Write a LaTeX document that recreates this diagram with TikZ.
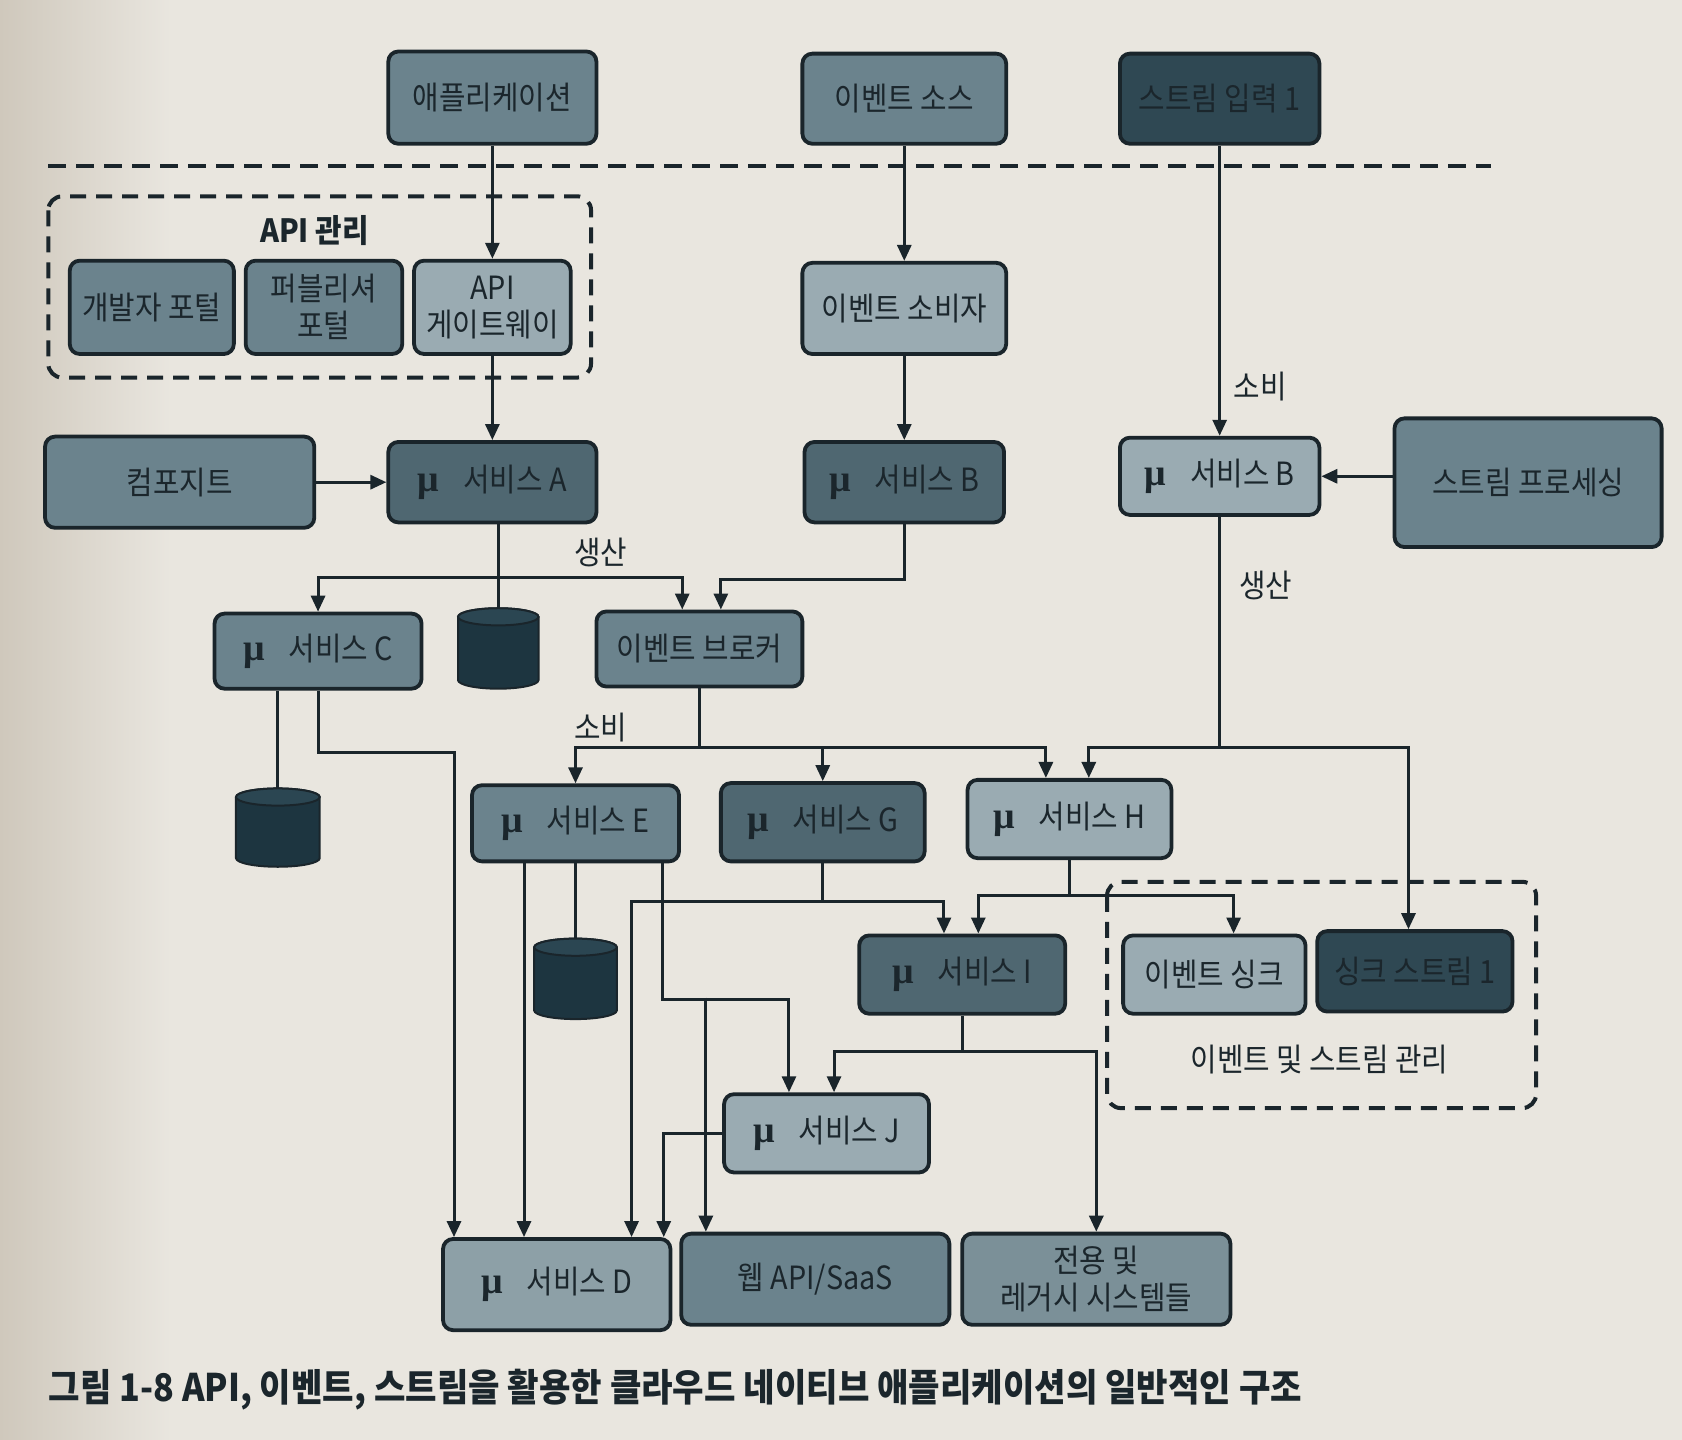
\documentclass[tikz,border=0pt]{standalone}
\usepackage{fontspec}
\usetikzlibrary{arrows.meta,calc}
\newfontfamily\kr[FakeStretch=0.9]{Noto Sans CJK KR}
\newfontfamily\mufont{Liberation Serif}
\definecolor{bg}{HTML}{E9E6DF}
\definecolor{shadowc}{HTML}{CFC8BC}
\definecolor{txt}{HTML}{1B262C}
\definecolor{bordc}{HTML}{1A252B}
\definecolor{cdark}{HTML}{2F4853}
\definecolor{cmdark}{HTML}{4F6771}
\definecolor{cmid}{HTML}{6B838D}
\definecolor{clegacy}{HTML}{7B9098}
\definecolor{clight}{HTML}{9AABB2}
\definecolor{clightD}{HTML}{8DA0A7}
\definecolor{cylbody}{HTML}{1D3540}
\definecolor{cyltop}{HTML}{2B4652}
\def\unitpx{0.53635pt}
\newcommand\mkbox[7]{\node[#1, minimum width={(#5-#3)*\unitpx}, minimum height={(#6-#4)*\unitpx}] (#2) at ({(#3+#5)/2},{(#4+#6)/2}) {#7};}
\newcommand\mmu{{\mufont\bfseries\fontsize{19}{17.5}\selectfont μ}\hspace{0.75em}}
\newcommand\dbcyl[5]{%
  \coordinate (#1) at ({(#2+#4)/2},#3);
  \filldraw[cylst] (#2,#3+8) -- (#2,#5-8) arc[start angle=180,end angle=0,x radius={(#4-#2)/2},y radius=8] -- (#4,#3+8) arc[start angle=0,end angle=-180,x radius={(#4-#2)/2},y radius=8] -- cycle;
  \filldraw[cylst, fill=cyltop] ({(#2+#4)/2},#3+8) ellipse[x radius={(#4-#2)/2}, y radius=8];}
\tikzset{
  box/.style={draw=bordc, line width=1.9pt, rounded corners=5pt, inner sep=1pt, align=center, text=txt, font=\kr\fontsize{16}{18.5}\selectfont},
  lbl/.style={text=txt, inner sep=1pt, font=\kr\fontsize{16}{18.5}\selectfont},
  arr/.style={draw=bordc, line width=1.5pt, -{Triangle[length=8pt,width=7pt]}},
  ln/.style={draw=bordc, line width=1.5pt},
  dframe/.style={draw=bordc, line width=2pt, dash pattern=on 8pt off 5pt, rounded corners=7pt},
  dline/.style={draw=bordc, line width=2pt, dash pattern=on 9pt off 5pt},
  cylst/.style={draw=bordc, line width=1pt, fill=cylbody}
}
\begin{document}
\begin{tikzpicture}[x=0.53635pt, y=-0.53635pt]
\useasboundingbox (0,0) rectangle (1568,1342);
\fill[bg] (0,0) rectangle (1568,1342);
\shade[left color=shadowc, right color=bg] (0,0) rectangle (160,1342);

% frames
\draw[dline] (45,155) -- (1390,155);
\draw[dframe] (45,183) rectangle (551,352);
\node[lbl, font=\kr\bfseries\fontsize{16}{18.5}\selectfont] (apimgmt) at (293,215) {API 관리};
\draw[dframe] (1032,822) rectangle (1432,1033);
\node[lbl] (evmgmt) at (1230,988) {이벤트 및 스트림 관리};

% boxes
\mkbox{box,fill=cmid}{app}{362}{48}{556}{134}{애플리케이션}
\mkbox{box,fill=cmid}{src}{748}{50}{938}{134}{이벤트 소스}
\mkbox{box,fill=cdark}{sin}{1044}{50}{1230}{134}{스트림 입력 1}
\mkbox{box,fill=cmid}{dev}{65}{243}{218}{330}{개발자 포털}
\mkbox{box,fill=cmid}{pub}{229}{243}{375}{330}{퍼블리셔\\포털}
\mkbox{box,fill=clight}{gw}{386}{243}{532}{330}{API\\게이트웨이}
\mkbox{box,fill=clight}{cons}{748}{245}{938}{330}{이벤트 소비자}
\mkbox{box,fill=cmid}{comp}{42}{407}{293}{492}{컴포지트}
\mkbox{box,fill=cmdark}{sA}{362}{412}{556}{487}{\mmu 서비스 A}
\mkbox{box,fill=cmdark}{sB}{750}{412}{936}{487}{\mmu 서비스 B}
\mkbox{box,fill=clight}{sBr}{1044}{408}{1230}{480}{\mmu 서비스 B}
\mkbox{box,fill=cmid}{proc}{1300}{390}{1549}{510}{스트림 프로세싱}
\mkbox{box,fill=cmid}{sC}{200}{572}{393}{642}{\mmu 서비스 C}
\mkbox{box,fill=cmid}{brk}{556}{570}{748}{640}{이벤트 브로커}
\mkbox{box,fill=cmid}{sE}{440}{732}{633}{803}{\mmu 서비스 E}
\mkbox{box,fill=cmdark}{sG}{672}{730}{862}{803}{\mmu 서비스 G}
\mkbox{box,fill=clight}{sH}{902}{727}{1092}{800}{\mmu 서비스 H}
\mkbox{box,fill=cmdark}{sI}{801}{872}{993}{945}{\mmu 서비스 I}
\mkbox{box,fill=clight}{sink}{1047}{872}{1217}{945}{이벤트 싱크}
\mkbox{box,fill=cdark}{ss}{1228}{868}{1410}{943}{싱크 스트림 1}
\mkbox{box,fill=clight}{sJ}{675}{1020}{866}{1093}{\mmu 서비스 J}
\mkbox{box,fill=clightD}{sD}{413}{1155}{625}{1240}{\mmu 서비스 D}
\mkbox{box,fill=cmid}{web}{635}{1150}{885}{1235}{웹 API/SaaS}
\mkbox{box,fill=clegacy}{leg}{897}{1150}{1147}{1235}{전용 및\\레거시 시스템들}

% databases
\dbcyl{db1}{427}{567}{502}{642}
\dbcyl{db2}{220}{735}{298}{808}
\dbcyl{db3}{498}{875}{575}{950}

% labels
\node[lbl] (l1) at (560,515) {생산};
\node[lbl] (l2) at (560,678) {소비};
\node[lbl] (l3) at (1175,360) {소비};
\node[lbl] (l4) at (1180,546) {생산};

% connectors top
\draw[arr] (app) -- (gw);
\draw[arr] (gw) -- (sA);
\draw[arr] (comp) -- (sA);
\draw[arr] (src) -- (cons);
\draw[arr] (cons) -- (sB);
\draw[arr] (sin) -- (sBr);
\draw[arr] (proc.west |- sBr.east) -- (sBr.east);

% A, B -> C, broker
\coordinate (jA) at (464,538);
\draw[ln] (sA.south -| db1) -- (db1);
\draw[arr] (jA) -| (sC.north);
\draw[arr] (jA) -| ($(brk.north)+(-16,0)$);
\draw[arr] (sB.south) -- ++(0,51) -| ($(brk.north)+(20,0)$);

% C
\draw[ln] (sC.south -| db2) -- (db2);
\draw[arr] (sC.south) -- ++(0,58) -| ($(sD.north west)+(12,0)$);

% broker -> E G H
\coordinate (jK) at (652,697);
\draw[ln] (brk.south) -- (jK);
\draw[arr] (jK) -| (sE.north);
\draw[arr] (jK) -| (sG.north);
\draw[arr] (jK) -| ($(sH.north)+(-22,0)$);

% B right -> H, sink stream
\coordinate (jR) at (1137,697);
\draw[ln] (sBr.south) -- (jR);
\draw[arr] (jR) -| ($(sH.north)+(18,0)$);
\draw[arr] (jR) -| ($(ss.north)+(-6,0)$);

% E
\coordinate (e1) at ($(sE.south)+(-48,0)$);
\draw[arr] (e1) -- (e1 |- sD.north);
\draw[ln] (sE.south -| db3) -- (db3);
\coordinate (e3) at ($(sE.south)+(81,0)$);
\draw[arr] (e3) -- ++(0,127) -| ($(sJ.north)+(-35,0)$);
\coordinate (jE) at (658,930);
\draw[arr] (jE) -- (jE |- web.north);

% G
\coordinate (jG) at (767,840);
\draw[ln] (sG.south) -- (jG);
\draw[arr] (jG) -| ($(sI.north)+(-17,0)$);
\draw[arr] (jG) -| ($(sD.north east)+(-38,0)$);

% H
\coordinate (jH) at (997,835);
\draw[ln] (sH.south) -- (jH);
\draw[arr] (jH) -| ($(sI.north)+(15,0)$);
\draw[arr] (jH) -| ($(sink.north)+(18,0)$);

% I
\coordinate (jI) at (897,980);
\draw[ln] (sI.south) -- (jI);
\draw[arr] (jI) -| ($(sJ.north)+(7,0)$);
\draw[arr] (jI) -| (leg.north);

% J
\draw[arr] (sJ.west) -| ($(sD.north east)+(-8,0)$);

% caption
\node[anchor=west, text=txt, inner sep=0pt, font=\kr\bfseries\fontsize{19}{21}\selectfont] (cap) at (45,1295) {그림 1-8 API, 이벤트, 스트림을 활용한 클라우드 네이티브 애플리케이션의 일반적인 구조};
\end{tikzpicture}
\end{document}
